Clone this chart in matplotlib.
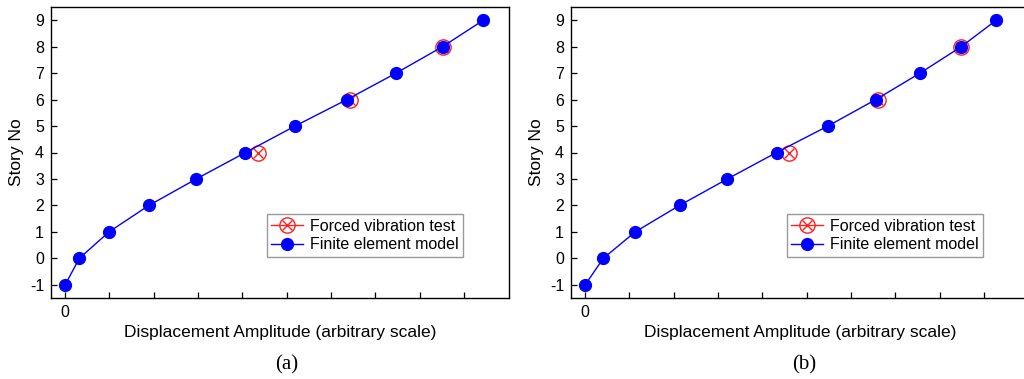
import matplotlib
matplotlib.use("Agg")
import matplotlib.pyplot as plt
from matplotlib.lines import Line2D
from matplotlib.legend_handler import HandlerTuple

# story levels
stories = [-1, 0, 1, 2, 3, 4, 5, 6, 7, 8, 9]
test_stories = [4, 6, 8]

# panel (a)
fem_a = [0.0, 0.32, 0.99, 1.89, 2.96, 4.07, 5.19, 6.36, 7.47, 8.52, 9.44]
test_a = [4.36, 6.43, 8.52]

# panel (b)
fem_b = [0.0, 0.41, 1.13, 2.13, 3.21, 4.32, 5.48, 6.56, 7.56, 8.49, 9.28]
test_b = [4.61, 6.60, 8.49]

plt.rcParams['font.family'] = ['Liberation Sans', 'DejaVu Sans']
plt.rcParams['axes.unicode_minus'] = False

fig = plt.figure(figsize=(10.24, 3.79), dpi=100)
w, h = 458 / 1024, 291 / 379
bottom = 1 - 298 / 379
ax_a = fig.add_axes([51 / 1024, bottom, w, h])
ax_b = fig.add_axes([571 / 1024, bottom, w, h])


def draw(ax, fem, test, caption, cx):
    ax.plot(test, test_stories, linestyle='none', marker='o', markersize=11,
            markerfacecolor='none', markeredgecolor='#ff2020', markeredgewidth=1.0)
    ax.plot(test, test_stories, linestyle='none', marker='x', markersize=7.5,
            color='#ff2020', markeredgewidth=1.0)
    ax.plot(fem, stories, color='#0000ff', linewidth=1.0, marker='o',
            markersize=8.5, markerfacecolor='#0000ff', markeredgecolor='#0000ff')

    ax.set_xlim(-0.32, 10.02)
    ax.set_ylim(-1.5, 9.5)
    ax.set_yticks(range(-1, 10))
    ax.set_xticks(range(0, 10))
    ax.set_xticklabels(['0'] + [''] * 9)
    ax.tick_params(direction='in', labelsize=11.5, length=4, width=0.9, pad=5)
    for s in ax.spines.values():
        s.set_linewidth(1.0)
    ax.set_xlabel('Displacement Amplitude (arbitrary scale)', fontsize=12.5, labelpad=4)
    ax.set_ylabel('Story No', fontsize=12.5, labelpad=4)

    red_line = Line2D([], [], color='#ff2020', linewidth=1.0)
    red_o = Line2D([], [], linestyle='none', marker='o', markersize=11,
                   markerfacecolor='none', markeredgecolor='#ff2020')
    red_x = Line2D([], [], linestyle='none', marker='x', markersize=7.5, color='#ff2020')
    blue = Line2D([], [], color='#0000ff', linewidth=1.0, marker='o', markersize=8.5)
    leg = ax.legend([(red_line, red_o, red_x), blue],
                    ['Forced vibration test', 'Finite element model'],
                    handler_map={tuple: HandlerTuple(ndivide=1, pad=0)},
                    loc='lower right', bbox_to_anchor=(0.90, 0.141),
                    fontsize=11.5, fancybox=False, framealpha=1,
                    edgecolor='#999999', handlelength=2.0, handletextpad=0.4,
                    borderpad=0.3, labelspacing=0.2, borderaxespad=0)
    leg.get_frame().set_linewidth(1.0)

    fig.text(cx, 1 - 365 / 379, caption, ha='center', va='center',
             fontsize=15, family='Liberation Serif')


draw(ax_a, fem_a, test_a, '(a)', 287 / 1024)
draw(ax_b, fem_b, test_b, '(b)', 804 / 1024)

fig.savefig('out.png', dpi=100)
